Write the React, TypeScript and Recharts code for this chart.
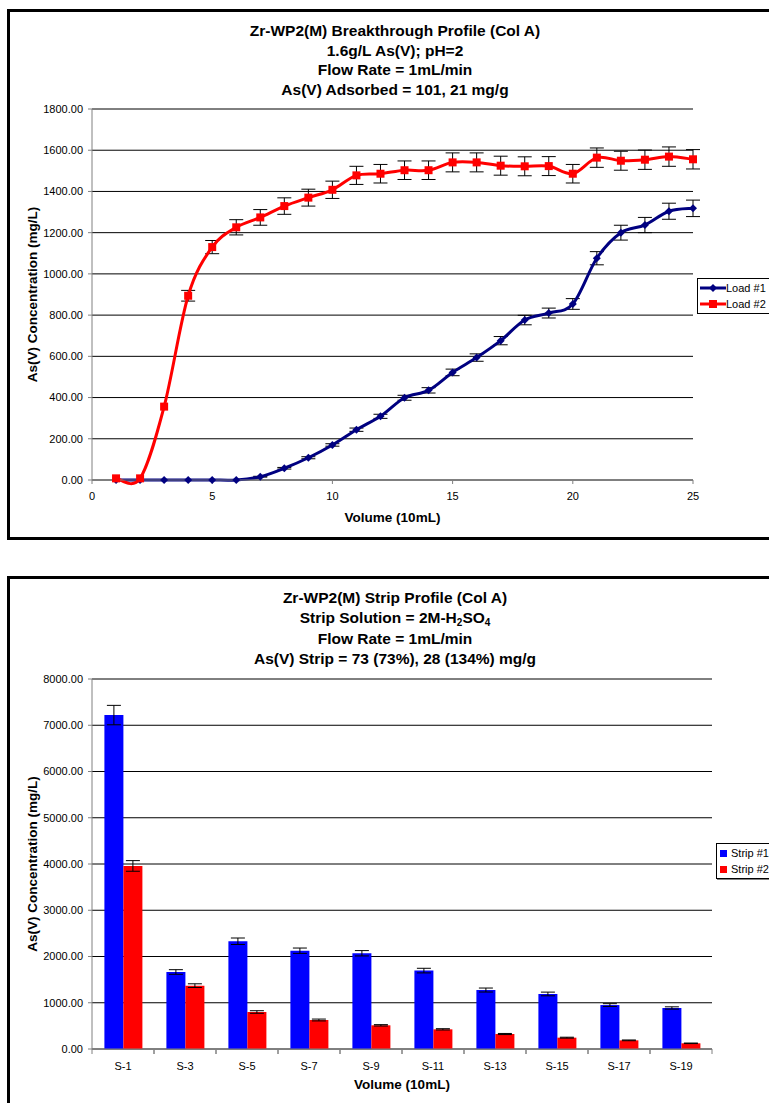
import React from 'react'
import {
  LineChart, Line, BarChart, Bar, XAxis, YAxis, CartesianGrid, ErrorBar, Legend,
} from 'recharts'

// breakthrough profile (volume in 10 mL fractions)
const volumes = [1, 2, 3, 4, 5, 6, 7, 8, 9, 10, 11, 12, 13, 14, 15, 16, 17, 18, 19, 20, 21, 22, 23, 24, 25]
const load1 = [0, 0, 0, 0, 0, 0, 16, 57, 108, 170, 244, 309, 399, 435, 522, 594, 676, 776, 810, 854, 1076, 1200, 1237, 1304, 1318]
const load1Err = [0, 0, 0, 0, 0, 0, 2, 4, 5, 6, 8, 10, 12, 13, 16, 18, 20, 23, 24, 26, 32, 36, 37, 39, 40]
const load2 = [8, 8, 356, 894, 1130, 1226, 1274, 1329, 1370, 1408, 1478, 1486, 1503, 1503, 1541, 1541, 1525, 1522, 1523, 1486, 1564, 1549, 1554, 1569, 1556]
const load2Err = [0, 0, 0, 26, 32, 37, 38, 40, 41, 42, 44, 45, 45, 45, 46, 46, 46, 46, 46, 45, 47, 46, 47, 47, 47]
const volumeTicks = [0, 5, 10, 15, 20, 25]
const loadTicks = [0, 200, 400, 600, 800, 1000, 1200, 1400, 1600, 1800]

// strip profile
const strips = ['S-1', 'S-3', 'S-5', 'S-7', 'S-9', 'S-11', 'S-13', 'S-15', 'S-17', 'S-19']
const strip1 = [7220, 1665, 2330, 2125, 2070, 1695, 1275, 1190, 950, 887]
const strip1Err = [210, 50, 70, 58, 58, 50, 43, 40, 30, 25]
const strip2 = [3958, 1370, 800, 627, 512, 425, 324, 245, 187, 123]
const strip2Err = [115, 40, 28, 20, 15, 14, 12, 10, 8, 6]
const stripTicks = [0, 1000, 2000, 3000, 4000, 5000, 6000, 7000, 8000]

const loadData = volumes.map((v, i) => ({
  v, load1: load1[i], e1: load1Err[i], load2: load2[i], e2: load2Err[i],
}))
const stripData = strips.map((s, i) => ({
  s, strip1: strip1[i], e1: strip1Err[i], strip2: strip2[i], e2: strip2Err[i],
}))

const FONT = 'Arial, "Liberation Sans", sans-serif'
const AXIS = '#808080'

// excel-like smoothed line (catmull-rom, tension 1/6)
const excelSmooth = (ctx: any) => {
  let pts: number[][] = []
  return {
    areaStart() {},
    areaEnd() {},
    lineStart() { pts = [] },
    point(x: number, y: number) { pts.push([+x, +y]) },
    lineEnd() {
      if (!pts.length) return
      ctx.moveTo(pts[0][0], pts[0][1])
      for (let i = 0; i < pts.length - 1; i++) {
        const p0 = pts[i - 1] || pts[i]
        const p1 = pts[i]
        const p2 = pts[i + 1]
        const p3 = pts[i + 2] || p2
        ctx.bezierCurveTo(
          p1[0] + (p2[0] - p0[0]) / 6, p1[1] + (p2[1] - p0[1]) / 6,
          p2[0] - (p3[0] - p1[0]) / 6, p2[1] - (p3[1] - p1[1]) / 6,
          p2[0], p2[1],
        )
      }
    },
  }
}

const Diamond = (p: any) => {
  if (p.cx == null || p.cy == null) return <g key={p.key} />
  const r = 4
  return <path key={p.key} d={`M${p.cx},${p.cy - r}L${p.cx + r},${p.cy}L${p.cx},${p.cy + r}L${p.cx - r},${p.cy}Z`} fill="#000080" />
}

const Square = (p: any) => {
  if (p.cx == null || p.cy == null) return <g key={p.key} />
  return <rect key={p.key} x={p.cx - 4} y={p.cy - 4} width={8} height={8} fill="#ff0000" />
}

const LoadLegend = () => (
  <div style={{ border: '1px solid #000', background: '#fff', width: 90, padding: '1px 0', fontSize: 11, fontFamily: FONT }}>
    {[
      { name: 'Load #1', color: '#000080', mark: 'diamond' },
      { name: 'Load #2', color: '#ff0000', mark: 'square' },
    ].map((d) => (
      <div key={d.name} style={{ display: 'flex', alignItems: 'center', height: 16 }}>
        <svg width={28} height={16} style={{ display: 'block' }}>
          <line x1={2} x2={28} y1={8} y2={8} stroke={d.color} strokeWidth={3} />
          {d.mark === 'diamond'
            ? <path d="M15,4L19,8L15,12L11,8Z" fill={d.color} />
            : <rect x={11} y={4} width={8} height={8} fill={d.color} />}
        </svg>
        <span>{d.name}</span>
      </div>
    ))}
  </div>
)

const StripLegend = () => (
  <div style={{ border: '1px solid #000', boxShadow: '1px 1px 0 #808080', background: '#fff', width: 70, padding: '1px 0', fontSize: 11, fontFamily: FONT }}>
    {[
      { name: 'Strip #1', color: '#0000ff' },
      { name: 'Strip #2', color: '#ff0000' },
    ].map((d) => (
      <div key={d.name} style={{ display: 'flex', alignItems: 'center', height: 16 }}>
        <span style={{ display: 'inline-block', width: 7, height: 7, background: d.color, margin: '0 4px 0 3px' }} />
        <span>{d.name}</span>
      </div>
    ))}
  </div>
)

const TICK_SIZE = 5
const TICK_MARGIN = 8
const HALF_BAND = (769 - 92 - 57) / strips.length / 2

const StripTick = (p: any) => {
  const axisY = p.y - TICK_SIZE - TICK_MARGIN
  return (
    <g>
      <line x1={p.x - HALF_BAND} x2={p.x - HALF_BAND} y1={axisY} y2={axisY + TICK_SIZE} stroke={AXIS} />
      <line x1={p.x + HALF_BAND} x2={p.x + HALF_BAND} y1={axisY} y2={axisY + TICK_SIZE} stroke={AXIS} />
      <text x={p.x} y={p.y} dy="0.71em" textAnchor="middle" fontSize={11} fill="#000">{p.payload.value}</text>
    </g>
  )
}

const titleStyle: React.CSSProperties = {
  position: 'absolute', left: 0, width: 790, textAlign: 'center',
  fontWeight: 'bold', fontSize: 15.5, fontFamily: FONT, color: '#000',
}

const axisTitle = { fontWeight: 'bold', fontSize: 13.5, fill: '#000' }
const subStyle: React.CSSProperties = { fontSize: 10, lineHeight: 0, verticalAlign: -3 }

export default function App() {
  return (
    <div style={{ position: 'relative', width: 769, height: 1103, overflow: 'hidden', background: '#fff', fontFamily: FONT }}>
      <style>{'body{margin:0}'}</style>

      <div style={{ position: 'absolute', left: 7, top: 9, width: 790, height: 531, border: '3px solid #000', boxSizing: 'border-box' }} />
      <div style={{ ...titleStyle, top: 21, lineHeight: '19.6px' }}>
        <div>Zr-WP2(M) Breakthrough Profile (Col A)</div>
        <div>1.6g/L As(V); pH=2</div>
        <div>Flow Rate = 1mL/min</div>
        <div>As(V) Adsorbed = 101, 21 mg/g</div>
      </div>
      <div style={{ position: 'absolute', left: 0, top: 0 }}>
        <LineChart width={769} height={540} data={loadData} margin={{ top: 109, right: 76, bottom: 18, left: 0 }}>
          <CartesianGrid vertical={false} stroke="#000" />
          <XAxis
            dataKey="v" type="number" domain={[0, 25]} ticks={volumeTicks} height={42}
            tick={{ fill: '#000', fontSize: 11 }} tickSize={4} tickMargin={8}
            axisLine={{ stroke: AXIS }} tickLine={{ stroke: AXIS }}
            label={{ value: 'Volume (10mL)', position: 'insideBottom', offset: 0, style: axisTitle }}
          />
          <YAxis
            domain={[0, 1800]} ticks={loadTicks} width={92} tickFormatter={(v: number) => v.toFixed(2)}
            tick={{ fill: '#000', fontSize: 11 }} tickSize={4} tickMargin={5}
            axisLine={{ stroke: AXIS }} tickLine={{ stroke: AXIS }}
            label={{ value: 'As(V) Concentration (mg/L)', angle: -90, position: 'insideLeft', offset: 32, style: { ...axisTitle, textAnchor: 'middle' } }}
          />
          <Line dataKey="load1" name="Load #1" type={excelSmooth as any} stroke="#000080" strokeWidth={3} dot={Diamond} activeDot={false} isAnimationActive={false}>
            <ErrorBar dataKey="e1" direction="y" width={7} stroke="#000" strokeWidth={1} />
          </Line>
          <Line dataKey="load2" name="Load #2" type={excelSmooth as any} stroke="#ff0000" strokeWidth={3} dot={Square} activeDot={false} isAnimationActive={false}>
            <ErrorBar dataKey="e2" direction="y" width={7} stroke="#000" strokeWidth={1} />
          </Line>
          <Legend layout="horizontal" align="center" verticalAlign="middle" content={<LoadLegend />}
            wrapperStyle={{ left: 697, top: 278, width: 90, height: 36 }} />
        </LineChart>
      </div>

      <div style={{ position: 'absolute', left: 7, top: 576, width: 790, height: 560, border: '3px solid #000', boxSizing: 'border-box' }} />
      <div style={{ ...titleStyle, top: 588, lineHeight: '20.3px' }}>
        <div>Zr-WP2(M) Strip Profile (Col A)</div>
        <div>Strip Solution = 2M-H<sub style={subStyle}>2</sub>SO<sub style={subStyle}>4</sub></div>
        <div>Flow Rate = 1mL/min</div>
        <div>As(V) Strip = 73 (73%), 28 (134%) mg/g</div>
      </div>
      <div style={{ position: 'absolute', left: 0, top: 577 }}>
        <BarChart width={769} height={526} data={stripData} barCategoryGap="20%" barGap={0}
          margin={{ top: 102, right: 57, bottom: 14, left: 0 }}>
          <CartesianGrid vertical={false} stroke="#000" />
          <XAxis
            dataKey="s" height={40} tick={<StripTick />} tickSize={TICK_SIZE} tickMargin={TICK_MARGIN}
            tickLine={false} axisLine={{ stroke: AXIS }} interval={0}
            label={{ value: 'Volume (10mL)', position: 'insideBottom', offset: 0, style: axisTitle }}
          />
          <YAxis
            domain={[0, 8000]} ticks={stripTicks} width={92} tickFormatter={(v: number) => v.toFixed(2)}
            tick={{ fill: '#000', fontSize: 11 }} tickSize={4} tickMargin={5}
            axisLine={{ stroke: AXIS }} tickLine={{ stroke: AXIS }}
            label={{ value: 'As(V) Concentration (mg/L)', angle: -90, position: 'insideLeft', offset: 32, style: { ...axisTitle, textAnchor: 'middle' } }}
          />
          <Bar dataKey="strip1" name="Strip #1" fill="#0000ff" isAnimationActive={false}>
            <ErrorBar dataKey="e1" direction="y" width={7} stroke="#000" strokeWidth={1} />
          </Bar>
          <Bar dataKey="strip2" name="Strip #2" fill="#ff0000" isAnimationActive={false}>
            <ErrorBar dataKey="e2" direction="y" width={7} stroke="#000" strokeWidth={1} />
          </Bar>
          <Legend layout="horizontal" align="center" verticalAlign="middle" content={<StripLegend />}
            wrapperStyle={{ left: 716, top: 266, width: 70, height: 36 }} />
        </BarChart>
      </div>
    </div>
  )
}
